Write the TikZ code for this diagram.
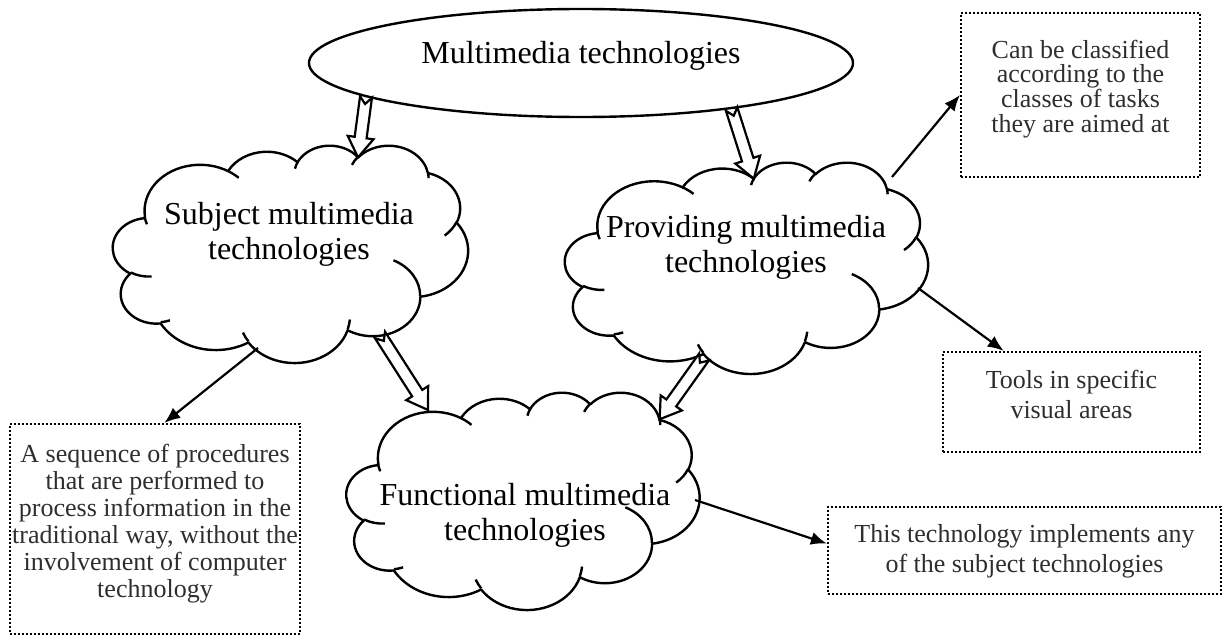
\documentclass[tikz,border=0pt]{standalone}
\usepackage{fontspec}
\setmainfont{Liberation Serif}
\usetikzlibrary{shapes.geometric,arrows.meta,calc,positioning}

\tikzset{
  puffline/.style={line width=2.4pt, line join=round},
  note/.style={draw, dash pattern=on 2pt off 2pt, line width=2.2pt},
  notetext/.style={font=\fontsize{26}{27}\selectfont, align=center, text=black!82},
  bigtext/.style={font=\fontsize{32}{35}\selectfont, align=center},
  link/.style={-{Latex[length=16pt,width=13pt]}, line width=2.2pt},
  hollow/.style={draw, line width=2.2pt, fill=white, line join=miter},
  % elliptic arc given by its visual start angle and sweep
  warc/.style n args={4}{insert path={arc[
    start angle={atan2(sin(#3)/#2,cos(#3)/#1)+360*round((#3-atan2(sin(#3)/#2,cos(#3)/#1))/360)},
    end angle={atan2(sin(#3+#4)/#2,cos(#3+#4)/#1)+360*round((#3+#4-atan2(sin(#3+#4)/#2,cos(#3+#4)/#1))/360)},
    x radius=#1, y radius=#2]}}
}

% cloud: name, x, y, width, height
\newcommand{\wordcloud}[5]{%
  \node[ellipse, minimum width=#4, minimum height=#5, inner sep=0pt] (#1) at (#2,#3) {};
  \pgfmathsetmacro{\cloudxu}{#4/432}\pgfmathsetmacro{\cloudyu}{#5/432}
  \begin{scope}[shift={(#1.center)}, x=\cloudxu pt, y=-\cloudyu pt, shift={(-216,-216)}]
    \draw[puffline, fill=white] (39,143.7)
      [warc={67.53}{91.90}{-190.4875}{123.7805}]
      [warc={53.33}{72.67}{-144.1024}{89.9452}]
      [warc={43.65}{59.45}{-145.8079}{99.7230}]
      [warc={48.57}{65.95}{-130.9861}{117.2417}]
      [warc={53.33}{72.73}{-78.7089}{109.0269}]
      [warc={67.75}{92.20}{-46.2673}{130.2690}]
      [warc={57.85}{78.67}{0.6250}{114.0333}]
      [warc={67.52}{92.15}{22.4516}{115.1726}]
      [warc={77.20}{105.43}{66.2426}{75.7110}]
      [warc={43.60}{59.18}{-274.9421}{146.7356}]
      [warc={43.45}{59.45}{-246.8285}{152.5189}] -- cycle;
    \draw[puffline]
      (46.93,261.77) [warc={43.45}{59.45}{86.742}{26.430}]
      (69.28,348.99) [warc={43.60}{59.18}{73.610}{11.447}]
      (164.78,390.90) [warc={67.52}{92.15}{137.624}{14.081}]
      (288.27,347.51) [warc={67.52}{92.15}{6.453}{15.998}]
      (341.29,229.54) [warc={57.85}{78.67}{-70.292}{70.917}]
      (417.98,153.54) [warc={53.33}{72.73}{30.318}{27.752}]
      (383.24,54.26) [warc={48.57}{65.95}{-13.744}{14.859}]
      (290.78,39.52) [warc={48.57}{65.95}{-149.181}{18.195}]
      (221.41,47.20) [warc={43.65}{59.45}{-163.494}{17.686}]
      (140.00,51.92) [warc={67.53}{91.90}{-66.707}{12.319}]
      (41.27,157.89) [warc={67.53}{91.90}{154.819}{13.358}];
  \end{scope}
}

% block arrow with a notched tail, from #1 to #2
\newcommand{\hollowarrow}[2]{%
  \path let \p1=($(#2)-(#1)$) in
    \pgfextra{\pgfmathsetmacro{\harang}{atan2(\y1,\x1)}\pgfmathsetmacro{\harlen}{veclen(\x1,\y1)}\xdef\harang{\harang}\xdef\harlen{\harlen}};
  \draw[hollow, shift={(#1)}, rotate=\harang] (0,6) -- (\harlen-20,6) -- (\harlen-20,13) -- (\harlen,0) -- (\harlen-20,-13) -- (\harlen-20,-6) -- (0,-6) -- (7,0) -- cycle;
}

\begin{document}
\begin{tikzpicture}[x=1pt, y=-1pt]
\useasboundingbox (0,0) rectangle (1223,637);
% main ellipse
\node[ellipse, draw, line width=2.4pt, minimum width=544, minimum height=108] (mt) at (581,63) {};
\node[bigtext] (mtt) at (581,56) {Multimedia technologies};
% clouds
\wordcloud{subj}{290.5}{253.5}{355}{217}
\wordcloud{prov}{746.5}{267.5}{363}{211}
\wordcloud{func}{523}{500.5}{353}{217}
\node[bigtext] (subjt) at (289,234.5) {Subject multimedia\\technologies};
\node[bigtext] (provt) at (746,247.5) {Providing multimedia\\technologies};
\node[bigtext] (funct) at (525,515.5) {Functional multimedia\\technologies};
% notes
\node[note, minimum width=290, minimum height=210] (lbox) at (155,529) {};
\node[notetext, below=17.5pt of lbox.north] (lboxt) {A sequence of procedures\\that are performed to\\process information in the\\traditional way, without the\\involvement of computer\\technology};
\node[note, minimum width=239, minimum height=164] (trbox) at (1080.5,95) {};
\node[notetext, font=\fontsize{26}{24.7}\selectfont, below=24.5pt of trbox.north] (trboxt) {Can be classified\\according to the\\classes of tasks\\they are aimed at};
\node[note, minimum width=257, minimum height=100] (tools) at (1071.5,402) {};
\node[notetext, font=\fontsize{26}{30}\selectfont, below=15.5pt of tools.north] (toolst) {Tools in specific\\visual areas};
\node[note, minimum width=393, minimum height=87] (bbox) at (1024.5,550.5) {};
\node[notetext, font=\fontsize{26}{30}\selectfont, below=15.5pt of bbox.north] (bboxt) {This technology implements any\\of the subject technologies};
% block arrows
\hollowarrow{mt.189}{$(subj.center)+(67.5,-96.1)$}
\hollowarrow{mt.-17}{$(prov.center)+(7.3,-88.8)$}
\hollowarrow{$(subj.center)+(89.5,81.5)$}{$(func.center)+(-95,-90.5)$}
\hollowarrow{$(prov.center)+(-42.5,89.5)$}{$(func.center)+(136.6,-81.2)$}
% plain arrows
\draw[link] ($(subj.center)+(-32.5,94.5)$) -- (lbox.85);
\draw[link] ($(prov.center)+(145.5,-90.5)$) -- (trbox.west);
\draw[link] ($(prov.center)+(171.5,20.5)$) -- (tools.143);
\draw[link] ($(func.center)+(172,-0.5)$) -- (bbox.178);
\end{tikzpicture}
\end{document}
